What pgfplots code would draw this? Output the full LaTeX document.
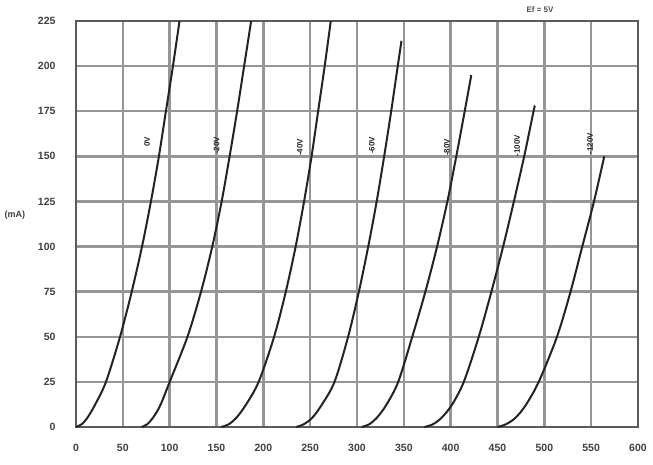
\documentclass[border=0pt]{standalone}
\usepackage{fontspec}
\setmainfont{Liberation Sans}
\usepackage{pgfplots}
\pgfplotsset{compat=1.18}
\definecolor{gridc}{RGB}{150,150,150}
\definecolor{framec}{RGB}{90,90,90}
\definecolor{curvec}{RGB}{35,35,35}
\begin{document}
\begin{tikzpicture}[x=1pt,y=1pt]
\path[use as bounding box] (0,0) rectangle (653,465);
\begin{axis}[at={(76pt,38pt)}, anchor=south west, scale only axis,
  width=562pt, height=406pt,
  xmin=0, xmax=600, ymin=0, ymax=225,
  xtick={0,50,...,600}, ytick={0,25,...,225},
  grid=major, major grid style={line width=2.5pt, color=gridc},
  axis line style={line width=2.6pt, color=framec},
  major tick length=0pt, tick style={draw=none},
  ticklabel style={font=\fontsize{10.5}{12}\selectfont\bfseries, text=black!75},
  xticklabel style={yshift=-14pt},
  yticklabel style={xshift=-17pt},
  /pgf/number format/assume math mode=true,
  clip=false]
\addplot[curvec, line width=2pt, smooth, tension=0.5] coordinates {(0,0)(6,1.5)(12,5)(20,12)(32,25)(47,50)(59.5,75)(70.5,100)(80,125)(88.5,150)(96,175)(103.5,200)(110.5,225)};
\addplot[curvec, line width=2pt, smooth, tension=0.5] coordinates {(70,0)(76,1.5)(82,5)(90,12)(100,25)(119,50)(133.5,75)(145.5,100)(155.5,125)(164,150)(172,175)(179.5,200)(187,225)};
\addplot[curvec, line width=2pt, smooth, tension=0.5] coordinates {(155,0)(163,1.5)(171,5)(181,12)(195,25)(211.5,50)(224,75)(234.5,100)(243.5,125)(251.5,150)(258.5,175)(265.5,200)(272,225)};
\addplot[curvec, line width=2pt, smooth, tension=0.5] coordinates {(235,0)(243,1.5)(252,5)(262,12)(276,25)(290.5,50)(302,75)(312,100)(321,125)(329,150)(336.5,175)(343.5,200)(347.5,214)};
\addplot[curvec, line width=2pt, smooth, tension=0.5] coordinates {(305,0)(313,1.5)(321,5)(331,12)(344,25)(359,50)(373,75)(385.5,100)(396.5,125)(406,150)(415,175)(422,195)};
\addplot[curvec, line width=2pt, smooth, tension=0.5] coordinates {(372,0)(381,1.5)(390,5)(401,12)(414,25)(430,50)(443.5,75)(456,100)(467.5,125)(478.5,150)(488.5,175)(490,178)};
\addplot[curvec, line width=2pt, smooth, tension=0.5] coordinates {(450,0)(459,1.5)(469,5)(480,12)(494,25)(513.5,50)(528,75)(540.5,100)(553,125)(564,150)};
\begin{scope}[every node/.style={rotate=90, font=\fontsize{8}{9}\selectfont\bfseries, text=black!85, inner sep=0.5pt}]
\node at (axis cs:76,158) {0V};
\node at (axis cs:150,156) {-20V};
\node at (axis cs:239,155) {-40V};
\node at (axis cs:316,156) {-60V};
\node at (axis cs:396,155) {-80V};
\node at (axis cs:471,156) {-100V};
\node at (axis cs:549,157) {-120V};
\end{scope}
\end{axis}
\node[anchor=west, font=\fontsize{9}{10}\selectfont\bfseries, text=black!75] at (1,250) {(mA)};
\node[font=\fontsize{8}{9}\selectfont\bfseries, text=black!70] at (540,455) {Ef = 5V};
\end{tikzpicture}
\end{document}
